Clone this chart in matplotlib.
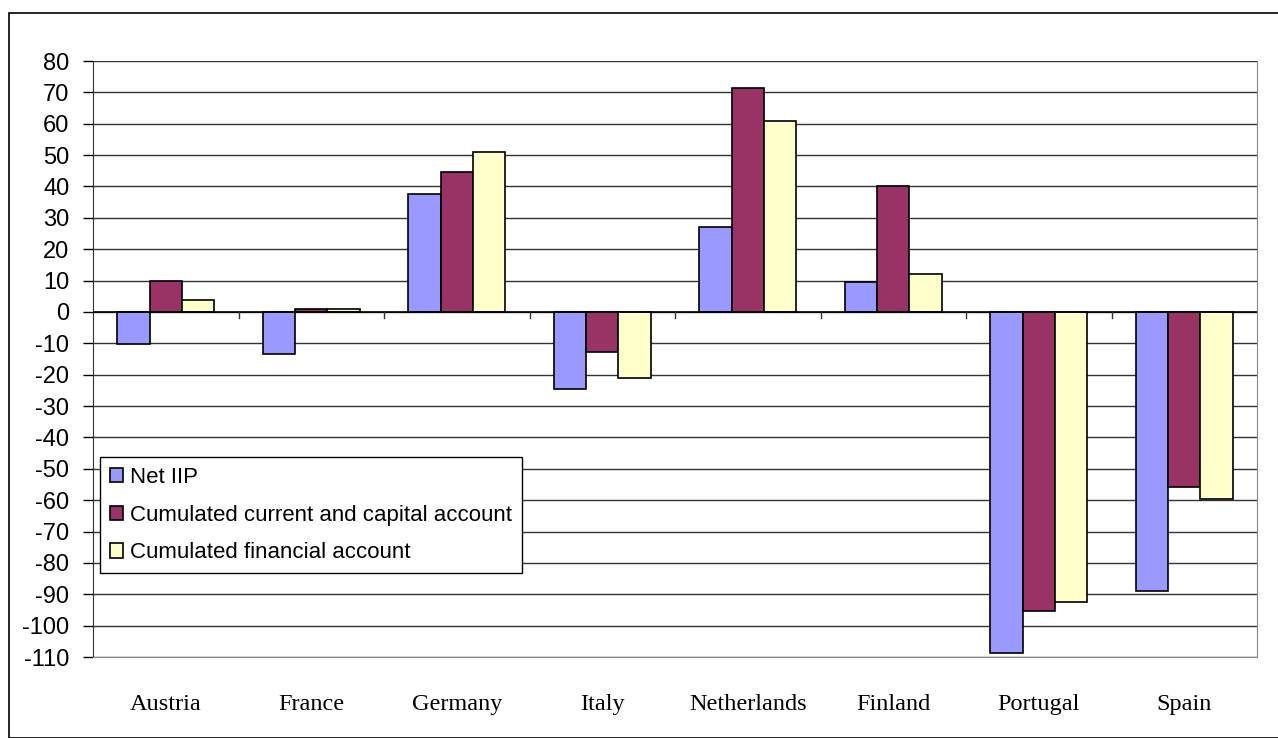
import numpy as np
import matplotlib.pyplot as plt
from matplotlib.patches import Rectangle

countries = ['Austria', 'France', 'Germany', 'Italy', 'Netherlands', 'Finland', 'Portugal', 'Spain']
net_iip = [-10.3, -13.4, 37.6, -24.5, 27.0, 9.5, -108.8, -89.0]
cum_current = [9.9, 1.0, 44.6, -12.8, 71.4, 40.0, -95.2, -55.8]
cum_financial = [3.8, 1.0, 51.0, -21.0, 61.0, 12.0, -92.6, -59.6]
series_names = ['Net IIP', 'Cumulated current and capital account', 'Cumulated financial account']
colors = ['#9999FF', '#993366', '#FFFFCC']

plt.rcParams['axes.unicode_minus'] = False

W, H = 1278, 738
fig = plt.figure(figsize=(W / 100, H / 100), dpi=100)

# outer chart frame
fig.patches.append(Rectangle((9 / W, 0), 1.2, 1 - 13 / H, transform=fig.transFigure,
                             fill=False, edgecolor='black', linewidth=1.2))

ax = fig.add_axes([93 / W, 1 - 657 / H, (1257 - 93) / W, (657 - 61) / H])

x = np.arange(len(countries))
bw = 1 / 4.5
for i, (vals, name, col) in enumerate(zip([net_iip, cum_current, cum_financial], series_names, colors)):
    ax.bar(x + (i - 1) * bw, vals, width=bw, color=col, edgecolor='black', linewidth=1.2,
           label=name, zorder=3)

ax.set_xlim(-0.5, len(countries) - 0.5)
ax.set_ylim(-110, 80)
ax.set_yticks(np.arange(-110, 81, 10))
ax.yaxis.grid(True, color='#333333', linewidth=1.0, zorder=0)
ax.tick_params(axis='y', labelsize=17, length=7, width=1, direction='out', pad=10)
for lab in ax.get_yticklabels():
    lab.set_fontfamily('Liberation Sans')

# category axis sits at zero, labels at bottom
ax.set_xticks([])
ax.axhline(0, color='black', linewidth=1.2, zorder=4)
for k in range(1, len(countries)):
    ax.plot([k - 0.5, k - 0.5], [0, -2], color='#333333', linewidth=1, zorder=4)
for k, c in enumerate(countries):
    ax.text(k, -125, c, ha='center', va='center', fontsize=17.5,
            fontfamily='Liberation Serif')

ax.spines['top'].set_visible(False)
ax.spines['right'].set_color('#888888')
ax.spines['bottom'].set_color('#888888')
ax.spines['left'].set_color('#333333')

leg = ax.legend(loc='upper left', bbox_to_anchor=((100 - 93) / (1257 - 93), (657 - 457) / (657 - 61)),
                prop={'family': 'Liberation Sans', 'size': 16}, fancybox=False, framealpha=1,
                edgecolor='black', handlelength=0.6, handleheight=0.6, handletextpad=0.3,
                borderpad=0.45, labelspacing=0.75, borderaxespad=0)
leg.get_frame().set_linewidth(1)
leg.set_zorder(5)

fig.savefig('out.png', dpi=100)
